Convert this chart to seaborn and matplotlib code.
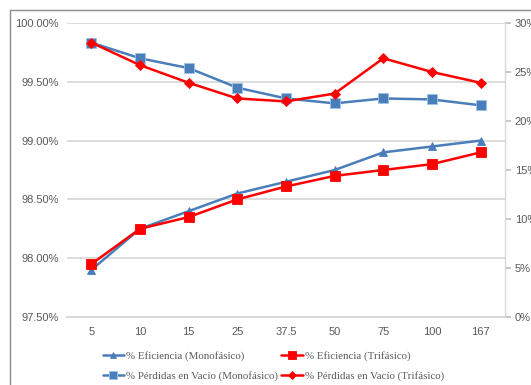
import matplotlib
matplotlib.use("Agg")
import matplotlib.pyplot as plt
import matplotlib.patches as mpatches
from matplotlib.ticker import FuncFormatter
import seaborn as sns
import pandas as pd

# kVA ratings
categorias = ["5", "10", "15", "25", "37.5", "50", "75", "100", "167"]

# Efficiency (%), left axis
eficiencia_mono = [97.90, 98.25, 98.40, 98.55, 98.65, 98.75, 98.90, 98.95, 99.00]
eficiencia_tri = [97.95, 98.25, 98.35, 98.50, 98.61, 98.70, 98.75, 98.80, 98.90]

# No-load losses (%), right axis
perdidas_mono = [28.0, 26.4, 25.4, 23.4, 22.3, 21.8, 22.3, 22.2, 21.6]
perdidas_tri = [28.0, 25.7, 23.9, 22.3, 22.0, 22.8, 26.4, 25.0, 23.9]

etiquetas = [
    "% Eficiencia (Monofásico)",
    "% Eficiencia (Trifásico)",
    "% Pérdidas en Vacío (Monofásico)",
    "% Pérdidas en Vacío (Trifásico)",
]

sns.set_theme(style="white")
plt.rcParams["font.family"] = ["Liberation Sans", "DejaVu Sans"]

AZUL = "#4A7EBB"
ROJO = "#FF0000"
GRIS = "#595959"

fig = plt.figure(figsize=(5.31, 3.85), dpi=100)
# chart frame
fig.patches.append(mpatches.Rectangle((10 / 531, -0.05), 1.1, 1 - 10 / 385 + 0.05,
                                      transform=fig.transFigure, fill=False,
                                      edgecolor="#8c8c8c", linewidth=1.0))
ax = fig.add_axes([67 / 531, 1 - 317 / 385, (505 - 67) / 531, (317 - 23) / 385])
ax2 = ax.twinx()

x = list(range(len(categorias)))
df = pd.DataFrame({
    "x": x,
    "ef_mono": eficiencia_mono,
    "ef_tri": eficiencia_tri,
    "per_mono": perdidas_mono,
    "per_tri": perdidas_tri,
})

kw = dict(linewidth=1.8, markeredgewidth=0.6, legend=False)
sns.lineplot(data=df, x="x", y="ef_mono", ax=ax, color=AZUL, marker="^",
             markersize=6, markeredgecolor=AZUL, zorder=3, **kw)
sns.lineplot(data=df, x="x", y="ef_tri", ax=ax, color=ROJO, marker="s",
             markersize=7, markeredgecolor=ROJO, zorder=4, **kw)
sns.lineplot(data=df, x="x", y="per_mono", ax=ax2, color=AZUL, marker="s",
             markersize=6.5, markeredgecolor="#9DC3E6", zorder=3, **kw)
sns.lineplot(data=df, x="x", y="per_tri", ax=ax2, color=ROJO, marker="D",
             markersize=5, markeredgecolor=ROJO, zorder=4, **kw)

ax.set_xlim(-0.5, len(categorias) - 0.5)
ax.set_ylim(97.5, 100.0)
ax.set_yticks([97.5, 98.0, 98.5, 99.0, 99.5, 100.0])
ax.yaxis.set_major_formatter(FuncFormatter(lambda v, p: f"{v:.2f}%"))
ax.set_xticks(x)
ax.set_xticklabels(categorias)
ax.grid(axis="y", color="#D9D9D9", linewidth=1.3)
ax.set_axisbelow(True)
ax.set_xlabel("")
ax.set_ylabel("")

ax2.set_ylim(0, 30)
ax2.set_yticks(range(0, 31, 5))
ax2.yaxis.set_major_formatter(FuncFormatter(lambda v, p: f"{int(v)}%"))
ax2.set_ylabel("")
ax2.grid(False)

for a in (ax, ax2):
    for s in ("top", "left"):
        a.spines[s].set_visible(False)
    a.spines["right"].set_visible(False)
    a.spines["bottom"].set_color("#D9D9D9")
    a.spines["bottom"].set_linewidth(1.3)
ax2.spines["right"].set_visible(True)
ax2.spines["right"].set_color("#D9D9D9")
ax2.spines["right"].set_linewidth(1.0)

ax.tick_params(axis="y", length=0, labelsize=8, labelcolor=GRIS, pad=6)
ax.tick_params(axis="x", length=0, labelsize=8, labelcolor=GRIS, pad=7)
ax2.tick_params(axis="y", right=True, length=4, color="#BFBFBF",
                labelsize=8, labelcolor=GRIS, pad=3)

handles = ax.get_lines()[:2] + ax2.get_lines()[:2]
orden = [handles[0], handles[2], handles[1], handles[3]]
orden_lbl = [etiquetas[0], etiquetas[2], etiquetas[1], etiquetas[3]]
fig.legend(orden, orden_lbl, ncol=2, loc="center", bbox_to_anchor=(0.515, 0.05),
           frameon=False, prop={"family": "Liberation Serif", "size": 7.8},
           labelcolor=GRIS, handlelength=2.0, handletextpad=0.2, markerscale=0.8,
           columnspacing=0.3, labelspacing=0.95, borderaxespad=0)

fig.savefig("out.png", dpi=100)
